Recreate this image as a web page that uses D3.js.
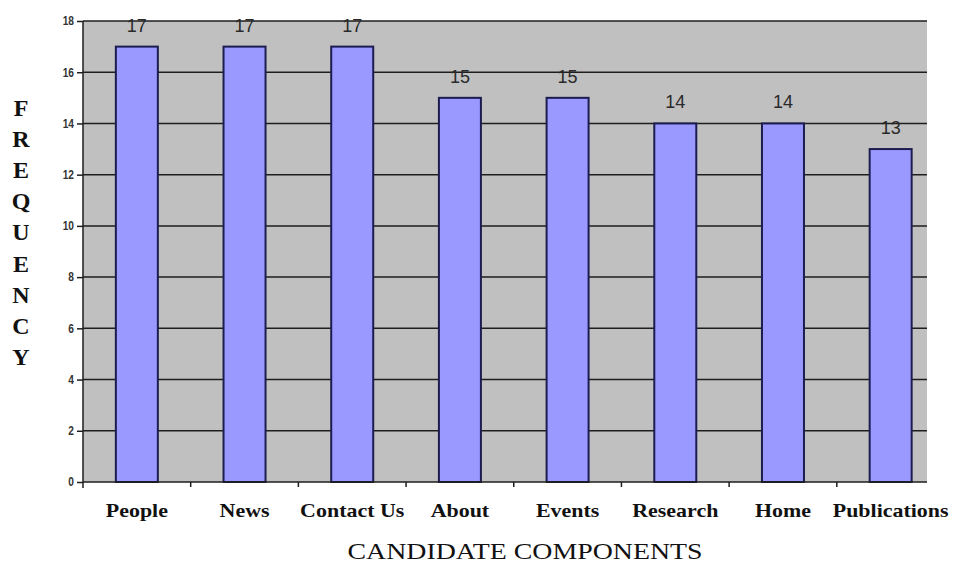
<!DOCTYPE html>
<html>
<head>
<meta charset="utf-8">
<script src="https://cdn.jsdelivr.net/npm/d3@7"></script>
<style>
  body { margin: 0; background: #fff; }
  svg { display: block; }
</style>
</head>
<body>
<svg id="chart" width="955" height="565"></svg>
<script>
const categories = ['People', 'News', 'Contact Us', 'About', 'Events', 'Research', 'Home', 'Publications'];
const frequency = [17, 17, 17, 15, 15, 14, 14, 13];
const yTicks = [0, 2, 4, 6, 8, 10, 12, 14, 16, 18];
const yTitle = 'FREQUENCY';
const xTitle = 'CANDIDATE COMPONENTS';

const svg = d3.select('#chart');

const plot = { left: 83, right: 927, top: 21, bottom: 482 };

// band range runs past the right edge of the grey area, like the source image
const x = d3.scaleBand()
  .domain(categories)
  .range([plot.left, 944.5])
  .paddingInner(0.61)
  .paddingOuter(0.305);

const y = d3.scaleLinear()
  .domain([0, 18])
  .range([plot.bottom, plot.top]);

// background
svg.append('rect')
  .attr('x', plot.left)
  .attr('y', plot.top)
  .attr('width', plot.right - plot.left)
  .attr('height', plot.bottom - plot.top)
  .attr('fill', '#c0c0c0');

// gridlines
svg.append('g')
  .selectAll('line')
  .data(yTicks.filter(d => d > 0))
  .join('line')
  .attr('x1', plot.left)
  .attr('x2', plot.right)
  .attr('y1', d => y(d))
  .attr('y2', d => y(d))
  .attr('stroke', '#1e1e1e')
  .attr('stroke-width', 1.5);

// bars
svg.append('g')
  .selectAll('rect')
  .data(frequency)
  .join('rect')
  .attr('x', (d, i) => x(categories[i]))
  .attr('y', d => y(d))
  .attr('width', x.bandwidth())
  .attr('height', d => y(0) - y(d))
  .attr('fill', '#9999ff')
  .attr('stroke', '#1c1c50')
  .attr('stroke-width', 2);

// value labels
svg.append('g')
  .selectAll('text')
  .data(frequency)
  .join('text')
  .attr('x', (d, i) => x(categories[i]) + x.bandwidth() / 2)
  .attr('y', d => y(d) - 15)
  .attr('text-anchor', 'middle')
  .attr('font-family', 'Arial, "Liberation Sans", sans-serif')
  .attr('font-size', 18)
  .attr('fill', '#2a2a2a')
  .text(d => d);

// y axis
const yAxis = svg.append('g')
  .attr('transform', `translate(${plot.left},0)`)
  .call(d3.axisLeft(y).tickValues(yTicks).tickSize(6).tickPadding(6));
yAxis.select('.domain')
  .attr('stroke', '#1e1e1e')
  .attr('stroke-width', 1.5)
  .attr('d', `M0,${plot.top}V${plot.bottom + 6}`);
yAxis.selectAll('.tick line').attr('stroke', '#1e1e1e').attr('stroke-width', 1.5);
yAxis.selectAll('.tick text')
  .attr('font-family', 'Arial, "Liberation Sans", sans-serif')
  .attr('font-size', 12)
  .attr('font-weight', 'bold')
  .attr('fill', '#333')
  .attr('transform', 'scale(0.85,1)')
  .attr('x', -9 / 0.85);

// x axis
const xAxis = svg.append('g')
  .attr('transform', `translate(0,${plot.bottom})`);
xAxis.append('line')
  .attr('x1', plot.left)
  .attr('x2', plot.right)
  .attr('stroke', '#1e1e1e')
  .attr('stroke-width', 1.5);
xAxis.selectAll('line.tick')
  .data(categories.slice(1))
  .join('line')
  .attr('class', 'tick')
  .attr('x1', d => x(d) - x.step() * x.paddingInner() / 2)
  .attr('x2', d => x(d) - x.step() * x.paddingInner() / 2)
  .attr('y1', 0)
  .attr('y2', 5)
  .attr('stroke', '#1e1e1e')
  .attr('stroke-width', 1.5);

// category labels
svg.append('g')
  .selectAll('text')
  .data(categories)
  .join('text')
  .attr('transform', d => `translate(${x(d) + x.bandwidth() / 2},517) scale(1.22,1)`)
  .attr('text-anchor', 'middle')
  .attr('font-family', '"Liberation Serif", "Times New Roman", serif')
  .attr('font-size', 18)
  .attr('font-weight', 'bold')
  .attr('fill', '#111')
  .text(d => d);

// x title
svg.append('text')
  .attr('x', 525)
  .attr('y', 559)
  .attr('text-anchor', 'middle')
  .attr('font-family', '"Liberation Serif", "Times New Roman", serif')
  .attr('font-size', 24)
  .attr('fill', '#111')
  .attr('textLength', 355)
  .attr('lengthAdjust', 'spacingAndGlyphs')
  .text(xTitle);

// y title, stacked letters
svg.append('text')
  .attr('font-family', '"Liberation Serif", "Times New Roman", serif')
  .attr('font-size', 24)
  .attr('font-weight', 'bold')
  .attr('fill', '#111')
  .attr('text-anchor', 'middle')
  .selectAll('tspan')
  .data(yTitle.split(''))
  .join('tspan')
  .attr('x', 21)
  .attr('y', (d, i) => 116 + i * 31.1)
  .text(d => d);
</script>
</body>
</html>
